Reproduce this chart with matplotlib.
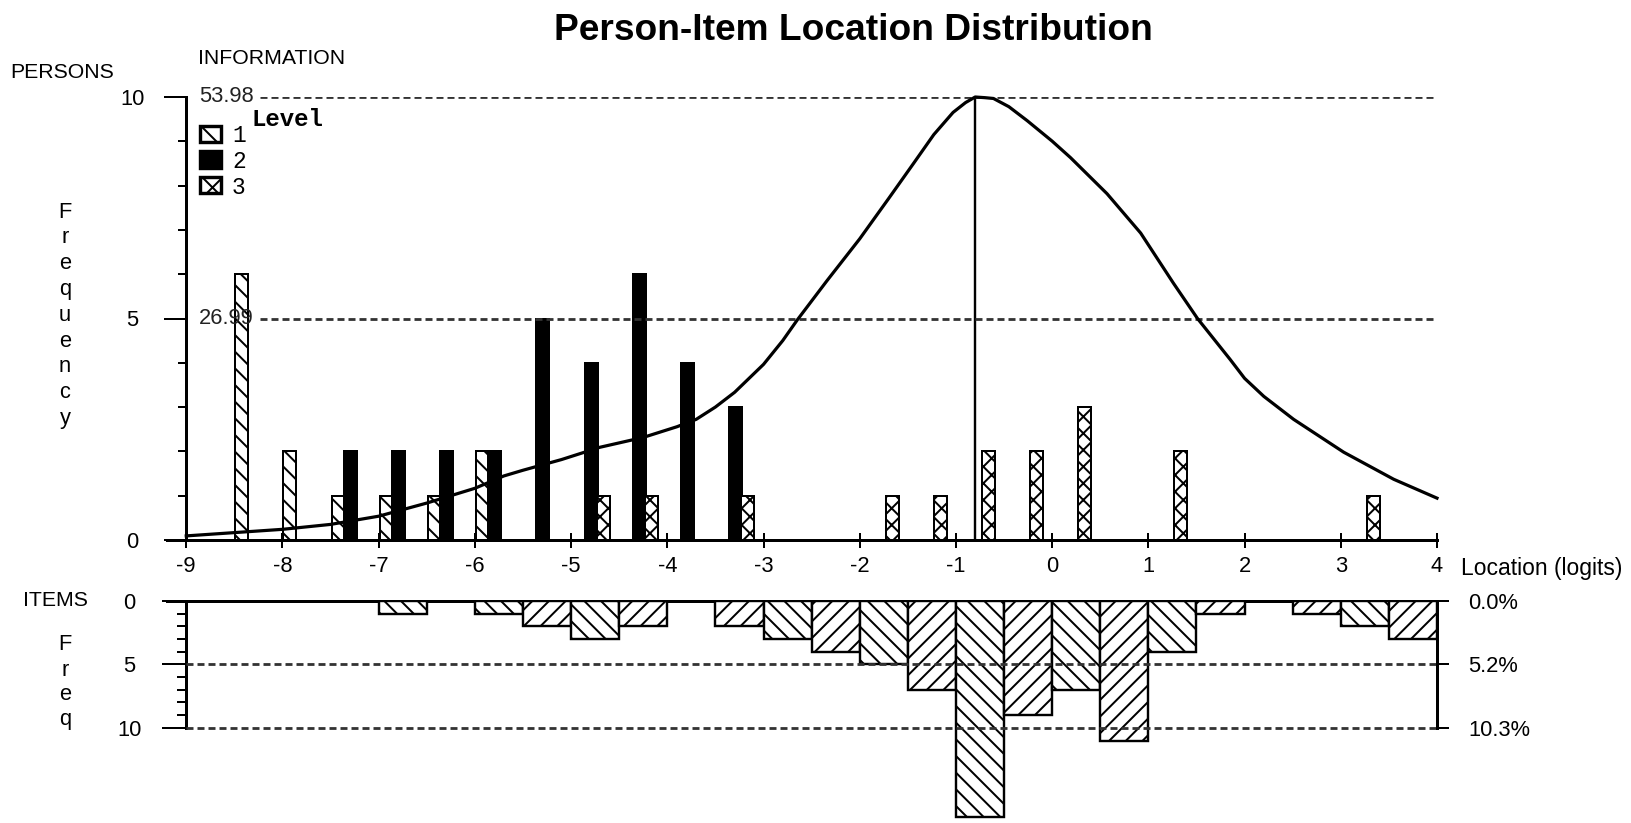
import numpy as np
import matplotlib
matplotlib.use('Agg')
import matplotlib.pyplot as plt
from matplotlib.patches import Rectangle

# person locations (bin start, logits) and counts per level
level1_loc = [-8.5, -8.0, -7.5, -7.0, -6.5, -6.0]
level1_n = [6, 2, 1, 1, 1, 2]
level2_loc = [-7.5, -7.0, -6.5, -6.0, -5.5, -5.0, -4.5, -4.0, -3.5]
level2_n = [2, 2, 2, 2, 5, 4, 6, 4, 3]
level3_loc = [-5.0, -4.5, -3.5, -2.0, -1.5, -1.0, -0.5, 0.0, 1.0, 3.0]
level3_n = [1, 1, 1, 1, 1, 2, 2, 3, 2, 1]

# item locations (bin start) and counts
item_loc = [-7.0, -6.0, -5.5, -5.0, -4.5, -3.5, -3.0, -2.5, -2.0, -1.5,
            -1.0, -0.5, 0.0, 0.5, 1.0, 1.5, 2.5, 3.0, 3.5]
item_n = [1, 1, 2, 3, 2, 2, 3, 4, 5, 7, 17, 9, 7, 11, 4, 1, 1, 2, 3]

# test information curve
info_x = [-9.0, -8.5, -8.0, -7.5, -7.0, -6.5, -6.0, -5.7, -5.5, -5.1, -4.7,
          -4.25, -3.9, -3.7, -3.5, -3.3, -3.0, -2.8, -2.65, -2.34, -2.0,
          -1.7, -1.44, -1.23, -1.03, -0.9, -0.8, -0.7, -0.61, -0.45, -0.26,
          0.0, 0.19, 0.57, 0.92, 1.26, 1.51, 1.85, 2.0, 2.2, 2.51, 3.03,
          3.55, 4.0]
info_y = [0.5, 0.9, 1.3, 1.9, 2.9, 4.5, 6.3, 7.8, 8.5, 9.8, 11.3,
          12.5, 13.8, 14.7, 16.2, 18.0, 21.4, 24.3, 26.8, 31.6, 36.7,
          41.6, 45.9, 49.4, 52.1, 53.3, 53.98, 53.9, 53.8, 52.8, 51.1,
          48.6, 46.6, 42.2, 37.4, 31.3, 27.0, 22.0, 19.7, 17.5, 14.7, 10.7,
          7.4, 5.1]
info_max = 53.98

x_ticks = list(range(-9, 5))
item_pct = ['0.0%', '5.2%', '10.3%']

W, H, DPI = 1631, 823, 150
PX = 72.0 / DPI

plt.rcParams['font.family'] = ['Liberation Sans', 'DejaVu Sans']
plt.rcParams['axes.unicode_minus'] = False
plt.rcParams['lines.scale_dashes'] = False
plt.rcParams['hatch.linewidth'] = 2 * PX

FS = 10.5
MONO = 'Liberation Mono'
DASH = (0, (7 * PX, 4 * PX))
DCOL = '#333333'


def fx(p):
    return p / W


def fy(p):
    return 1 - p / H


fig = plt.figure(figsize=(W / DPI, H / DPI), dpi=DPI)

x0, x1 = -9.2, 4.0
left_px, right_px = 167, 1437

# ---- persons panel
ax = fig.add_axes([fx(left_px), fy(540), (right_px - left_px) / W, (540 - 97) / H])
ax.set_xlim(x0, x1)
ax.set_ylim(0, 10)

bw = 0.135
ax.bar(np.array(level1_loc) + 0.01, level1_n, width=bw, align='edge',
       facecolor='white', edgecolor='black', hatch='\\\\\\', lw=2 * PX, zorder=3)
ax.bar(np.array(level2_loc) + 0.14, level2_n, width=bw, align='edge',
       facecolor='black', edgecolor='black', lw=2 * PX, zorder=3)
ax.bar(np.array(level3_loc) + 0.27, level3_n, width=bw, align='edge',
       facecolor='white', edgecolor='black', hatch='xxx', lw=2 * PX, zorder=3)

scale = 10 / info_max
ax.plot(info_x, np.array(info_y) * scale, color='black', lw=3.2 * PX,
        clip_on=False, zorder=5, solid_joinstyle='round')
peak = info_x[int(np.argmax(info_y))]
ax.vlines(peak, 0, max(info_y) * scale, color='black', lw=2.4 * PX, zorder=4)

ax.hlines([info_max * scale, info_max * scale / 2], -8.23, x1, color=DCOL,
          lw=2.8 * PX, linestyles=DASH, zorder=4)
ax.text(-8.87, 10, '%.2f' % info_max, fontsize=FS, va='center', ha='left', color='#222')
ax.text(-8.87, 5, '%.2f' % (info_max / 2), fontsize=FS, va='center', ha='left', color='#222')

for s in ['top', 'right']:
    ax.spines[s].set_visible(False)
ax.spines['left'].set_position(('data', -9))
ax.spines['left'].set_bounds(0, 10)
for s in ['left', 'bottom']:
    ax.spines[s].set_linewidth(3 * PX)

ax.set_yticks([0, 5, 10])
ax.set_yticks([1, 2, 3, 4, 6, 7, 8, 9], minor=True)
ax.tick_params(axis='y', which='major', direction='out', length=22 * PX,
               width=2 * PX, pad=32 * PX, labelsize=FS)
ax.tick_params(axis='y', which='minor', direction='out', length=8 * PX, width=2 * PX)
for lab in ax.get_yticklabels():
    lab.set_ha('center')
ax.set_xticks(x_ticks)
ax.set_xticklabels([str(v) for v in x_ticks])
ax.tick_params(axis='x', direction='inout', length=15 * PX, width=2 * PX,
               pad=9 * PX, labelsize=FS)

# ---- items panel
ax2 = fig.add_axes([fx(left_px), 0, (right_px - left_px) / W, fy(601)])
ax2.set_xlim(x0, x1)
ax2.set_ylim(17.5, 0)
bars = ax2.bar(item_loc, item_n, width=0.5, align='edge', facecolor='white',
               edgecolor='black', lw=2.4 * PX, zorder=3)
for b, loc in zip(bars, item_loc):
    idx = int(round((loc + 9) / 0.5))
    b.set_hatch('\\\\\\' if idx % 2 == 0 else '///')
ax2.hlines([5, 10], -9, x1, color=DCOL, lw=2.8 * PX, linestyles=DASH, zorder=4)

for s in ['bottom', 'right']:
    ax2.spines[s].set_visible(False)
ax2.spines['left'].set_position(('data', -9))
ax2.spines['left'].set_bounds(0, 10)
ax2.spines['top'].set_bounds(x0, x1)
for s in ['left', 'top']:
    ax2.spines[s].set_linewidth(3 * PX)
ax2.set_xticks([])
ax2.set_yticks([0, 5, 10])
ax2.set_yticks([1, 2, 3, 4, 6, 7, 8, 9], minor=True)
ax2.tick_params(axis='y', which='major', direction='out', length=24 * PX,
                width=2 * PX, pad=33 * PX, labelsize=FS)
ax2.tick_params(axis='y', which='minor', direction='out', length=9 * PX, width=2 * PX)
for lab in ax2.get_yticklabels():
    lab.set_ha('center')

ax3 = ax2.twinx()
ax3.set_ylim(17.5, 0)
for s in ['top', 'bottom', 'left']:
    ax3.spines[s].set_visible(False)
ax3.spines['right'].set_position(('data', 4))
ax3.spines['right'].set_bounds(0, 10)
ax3.spines['right'].set_linewidth(3 * PX)
ax3.set_yticks([0, 5, 10])
ax3.set_yticklabels(item_pct)
ax3.tick_params(axis='y', direction='out', length=12 * PX, width=2 * PX,
                pad=19 * PX, labelsize=FS)

# ---- texts
fig.text(fx(853), fy(30), 'Person-Item Location Distribution', ha='center',
         va='center', fontsize=17.8, fontweight='bold')
fig.text(fx(10), fy(73), 'PERSONS', ha='left', va='center', fontsize=FS - 0.3)
fig.text(fx(198), fy(59), 'INFORMATION', ha='left', va='center', fontsize=FS - 0.3)
fig.text(fx(1461), fy(568), 'Location (logits)', ha='left', va='center', fontsize=11)
fig.text(fx(23), fy(601), 'ITEMS', ha='left', va='center', fontsize=FS - 0.3)
for i, ch in enumerate('Frequency'):
    fig.text(fx(65), fy(212 + i * 25.8), ch, ha='center', va='center', fontsize=FS)
for i, ch in enumerate('Freq'):
    fig.text(fx(65), fy(645 + i * 25), ch, ha='center', va='center', fontsize=FS)

# ---- level legend
fig.text(fx(251), fy(119), 'Level', ha='left', va='center', fontsize=11.5,
         family=MONO, fontweight='bold')
legend_style = [('white', '\\\\'), ('black', None), ('white', 'xx')]
for i, (fc, h) in enumerate(legend_style):
    top = 126 + i * 25.5
    fig.add_artist(Rectangle((fx(200), fy(top + 16)), 21 / W, 16 / H,
                             transform=fig.transFigure, facecolor=fc,
                             edgecolor='black', hatch=h, lw=3.4 * PX))
    fig.text(fx(232), fy(top + 10), str(i + 1), ha='left', va='center',
             fontsize=11, family=MONO)

fig.savefig('out.png', dpi=DPI)
